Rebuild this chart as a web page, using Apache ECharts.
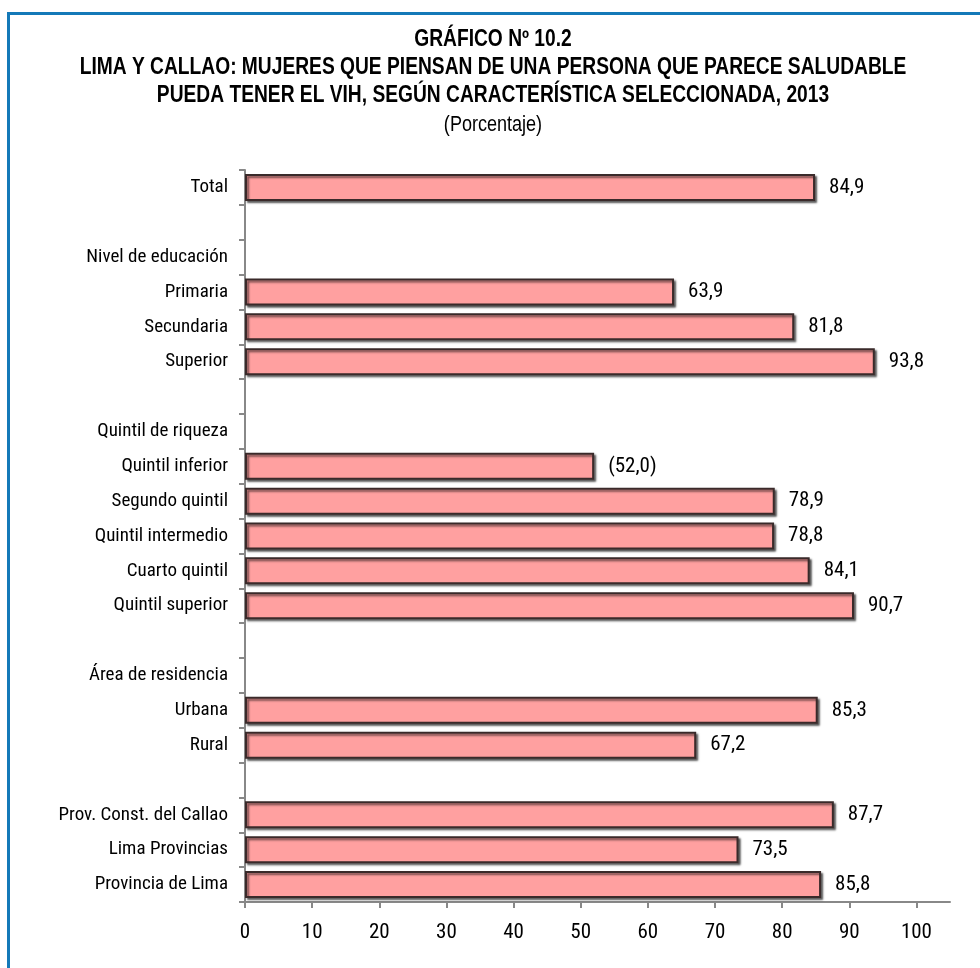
<!DOCTYPE html>
<html>
<head>
<meta charset="utf-8">
<script src="https://cdn.jsdelivr.net/npm/echarts@6/dist/echarts.min.js"></script>
<style>
  html, body { margin: 0; padding: 0; background: #fff; }
  #chart { width: 980px; height: 968px; }
</style>
</head>
<body>
<div id="chart"></div>
<script>
// Row labels, top to bottom (empty strings are spacer rows, headers carry no bar)
const categories = [
  'Total', '',
  'Nivel de educación', 'Primaria', 'Secundaria', 'Superior', '',
  'Quintil de riqueza', 'Quintil inferior', 'Segundo quintil', 'Quintil intermedio', 'Cuarto quintil', 'Quintil superior', '',
  'Área de residencia', 'Urbana', 'Rural', '',
  'Prov. Const. del Callao', 'Lima Provincias', 'Provincia de Lima'
];
// Percentage per row (null = no bar)
const values = [
  84.9, null,
  null, 63.9, 81.8, 93.8, null,
  null, 52.0, 78.9, 78.8, 84.1, 90.7, null,
  null, 85.3, 67.2, null,
  87.7, 73.5, 85.8
];
// Rows whose estimate rests on few cases, shown in parentheses
const fewCases = ['Quintil inferior'];
const xTicks = [0, 10, 20, 30, 40, 50, 60, 70, 80, 90, 100];

const titleLines = [
  'GRÁFICO Nº 10.2',
  'LIMA Y CALLAO: MUJERES QUE PIENSAN DE UNA PERSONA QUE PARECE SALUDABLE',
  'PUEDA TENER EL VIH, SEGÚN CARACTERÍSTICA SELECCIONADA, 2013'
];
const subtitle = '(Porcentaje)';

const FONT = "'Roboto Condensed', 'Liberation Sans Narrow', 'Liberation Sans', sans-serif";
const TITLE_FONT = "'Liberation Sans', Arial, sans-serif";

const fmt = v => v.toFixed(1).replace('.', ',');

const titleY = [40, 68, 96];

const chart = echarts.init(document.getElementById('chart'));
chart.setOption({
  animation: false,
  backgroundColor: '#ffffff',
  graphic: [
    {
      type: 'polyline',
      shape: { points: [[8.5, 968], [8.5, 13.5], [980, 13.5]] },
      style: { stroke: '#1479b8', lineWidth: 3, fill: null }
    },
    ...titleLines.map((t, i) => ({
      type: 'text',
      x: 493, y: titleY[i], scaleX: 0.835,
      style: {
        text: t, textAlign: 'center', textVerticalAlign: 'middle',
        font: 'bold 23px ' + TITLE_FONT, fill: '#000'
      }
    })),
    {
      type: 'text',
      x: 493, y: 125, scaleX: 0.82,
      style: {
        text: subtitle, textAlign: 'center', textVerticalAlign: 'middle',
        font: '22px ' + TITLE_FONT, fill: '#000'
      }
    }
  ],
  grid: { left: 245, right: 30, top: 170, bottom: 66, containLabel: false },
  xAxis: {
    type: 'value',
    min: 0, max: 105,
    splitLine: { show: false },
    axisLine: { show: true, lineStyle: { color: '#888', width: 2 } },
    axisTick: { show: true, length: 6, lineStyle: { color: '#888', width: 2 }, customValues: xTicks },
    axisLabel: { customValues: xTicks, color: '#000', fontSize: 21, fontFamily: FONT, margin: 20 }
  },
  yAxis: {
    type: 'category',
    inverse: true,
    data: categories,
    axisLine: { show: true, lineStyle: { color: '#888', width: 2 } },
    axisTick: { show: true, length: 6, lineStyle: { color: '#888', width: 2 } },
    axisLabel: { color: '#000', fontSize: 19, fontFamily: FONT, margin: 17 }
  },
  series: [{
    type: 'bar',
    data: values,
    barWidth: 27,
    itemStyle: {
      color: '#ffa0a0',
      borderColor: '#3a2a2a',
      borderWidth: 2,
      shadowColor: 'rgba(0,0,0,0.55)',
      shadowBlur: 2,
      shadowOffsetX: 2,
      shadowOffsetY: 2
    },
    label: {
      show: true,
      position: 'right',
      distance: 14,
      color: '#000',
      fontSize: 21,
      fontFamily: FONT,
      formatter: p => fewCases.includes(p.name) ? '(' + fmt(p.value) + ')' : fmt(p.value)
    }
  }]
});
</script>
</body>
</html>
